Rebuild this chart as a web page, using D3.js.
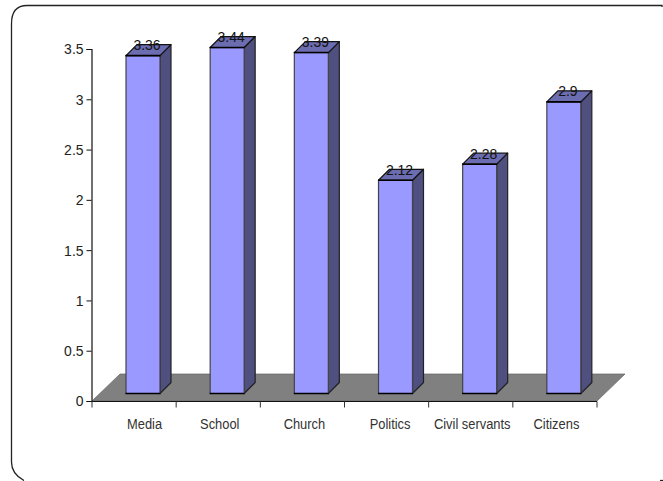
<!DOCTYPE html>
<html><head><meta charset="utf-8">
<style>html,body{margin:0;padding:0;background:#fff}svg{display:block}
text{font-family:"Liberation Sans",Arial,sans-serif}</style>
<script src="https://cdnjs.cloudflare.com/ajax/libs/d3/7.8.5/d3.min.js"></script></head>
<body><svg id="c" width="663" height="481"></svg>
<script>
const categories=["Media","School","Church","Politics","Civil servants","Citizens"];
const values=[3.36,3.44,3.39,2.12,2.28,2.9];
const yTicks=[0,0.5,1,1.5,2,2.5,3,3.5];
// layout
const plotLeft=92,plotRight=597,plotBase=401,plotTop=49;
const labelNudge=[10.5,1.5,2,3.5,1.5,1.5];
const svg=d3.select("#c");
svg.append("path").attr("d",`M662,7V5.5H27Q11.5,5.5 11.5,24V462Q11.5,474 24,480.5`).attr("fill","none").attr("stroke","#222").attr("stroke-width",1.3);
svg.append("path").attr("d",`M660,480.5H663`).attr("stroke","#222").attr("stroke-width",1.3);
const x=d3.scaleBand().domain(categories).range([plotLeft,plotRight]);
const y=d3.scaleLinear().domain([0,3.5]).range([plotBase,plotTop]);
const depth=28,bd=11,inset=7.5,barW=34,barOff=34;
// floor
svg.append("path").attr("d",`M${plotLeft},${plotBase}L${plotLeft+depth},${plotBase-depth+1}H${plotRight+depth}L${plotRight},${plotBase}Z`).attr("fill","#808080").attr("stroke","#666").attr("stroke-width",.7);
// bars
const g=svg.selectAll("g.bar").data(categories).join("g").attr("class","bar");
g.each(function(c,i){
  const s=d3.select(this),x0=x(c)+barOff,x1=x0+barW,yb=plotBase-inset,yt=y(values[i])-inset;
  const add=(d,f,col,w)=>s.append("path").attr("d",d).attr("fill",f).attr("stroke",col).attr("stroke-width",w).attr("stroke-linejoin","round");
  add(`M${x1},${yt}L${x1+bd},${yt-bd}V${yb-bd}L${x1},${yb}Z`,"#4f4f80","#222",1.2);
  add(`M${x0},${yt}L${x0+bd},${yt-bd}H${x1+bd}L${x1},${yt}Z`,"#6c6cb0","#111",1.2);
  add(`M${x0},${yt}H${x1}V${yb}H${x0}Z`,"#9999ff","#444",1.2);
  add(`M${x0-.5},${yt}H${x1+.5}`,"none","#000",1.6);
  add(`M${x0-.5},${yb}H${x1+.5}`,"none","#000",1.6);
});
// axes
const tickSx=.9,catSx=.86;
const ya=svg.append("g").attr("transform",`translate(${plotLeft-.5},0)`).call(d3.axisLeft(y).tickValues(yTicks).tickFormat(d=>d).tickSize(5).tickPadding(3));
ya.select(".domain").attr("stroke","#111").attr("stroke-width",1.2);
ya.selectAll("line").attr("stroke","#111");
ya.selectAll("text").attr("font-size",15.5).attr("font-family","Liberation Sans").attr("fill","#222")
  .attr("x",-8/tickSx).attr("transform",`scale(${tickSx},1)`);
const xa=svg.append("g").attr("transform",`translate(0,${plotBase+.5})`);
xa.append("line").attr("x1",plotLeft-1).attr("x2",plotRight).attr("stroke","#111").attr("stroke-width",1.2);
xa.selectAll("line.t").data(d3.range(categories.length+1)).join("line").attr("class","t")
  .attr("x1",i=>plotLeft+i*x.step()).attr("x2",i=>plotLeft+i*x.step()).attr("y1",0).attr("y2",6).attr("stroke","#333");
svg.selectAll("text.cat").data(categories).join("text").attr("class","cat")
  .attr("transform",(c,i)=>`translate(${x(c)+x.bandwidth()/2+labelNudge[i]},429) scale(${catSx},1)`)
  .attr("text-anchor","middle").attr("font-size",15).attr("fill","#333").text(c=>c);
svg.selectAll("text.val").data(values).join("text").attr("class","val")
  .attr("transform",(v,i)=>`translate(${x(categories[i])+barOff+barW/2+4},${y(v)-inset-5.5}) scale(${tickSx},1)`)
  .attr("text-anchor","middle").attr("font-size",15.5).attr("fill","#111").text(d=>d);
</script></body></html>
